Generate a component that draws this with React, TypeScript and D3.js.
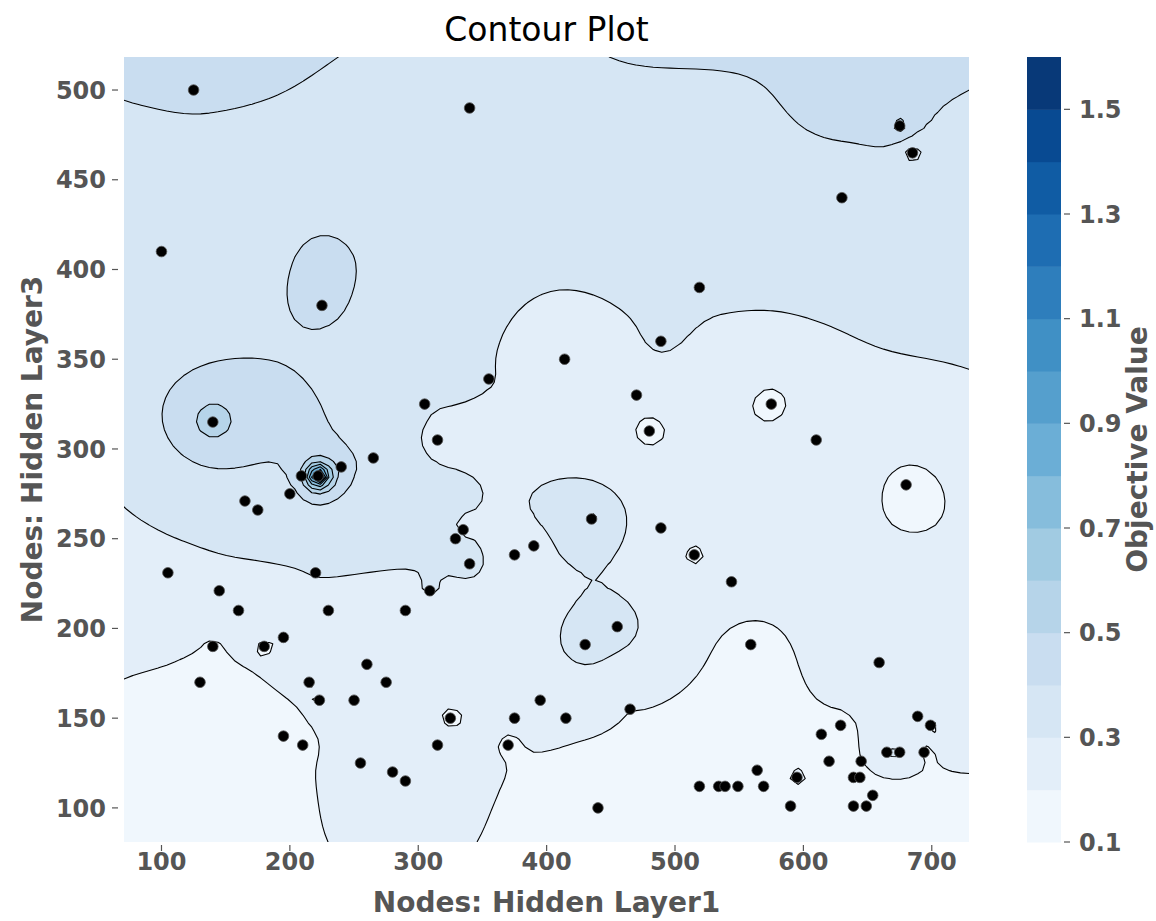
import React, { useMemo } from "react";
import * as d3 from "d3";

// Sampled configurations: nodes in hidden layer 1, nodes in hidden layer 3, objective value
const hiddenLayer1 = [
  125, 340, 675, 685, 630, 100, 225, 519, 489, 414,
  355, 470, 305, 575, 480, 315, 610, 140, 265, 240,
  209, 222, 200, 680, 165, 175, 435, 489, 335, 329,
  390, 375, 515, 340, 105, 220, 544, 145, 309, 160,
  230, 290, 455, 195, 140, 180, 430, 559, 659, 260,
  275, 215, 130, 250, 223, 395, 465, 325, 375, 415,
  689, 629, 699, 614, 195, 210, 315, 370, 665, 675,
  694, 620, 645, 255, 564, 280, 290, 595, 639, 644,
  519, 534, 539, 549, 569, 654, 440, 590, 639, 649,
];
const hiddenLayer3 = [
  500, 490, 480, 465, 440, 410, 380, 390, 360, 350,
  339, 330, 325, 325, 310, 305, 305, 315, 295, 290,
  285, 285, 275, 280, 271, 266, 261, 256, 255, 250,
  246, 241, 241, 236, 231, 231, 226, 221, 221, 210,
  210, 210, 201, 195, 190, 190, 191, 191, 181, 180,
  170, 170, 170, 160, 160, 160, 155, 150, 150, 150,
  151, 146, 146, 141, 140, 135, 135, 135, 131, 131,
  131, 126, 126, 125, 121, 120, 115, 117, 117, 117,
  112, 112, 112, 112, 112, 107, 100, 101, 101, 101,
];
const objectiveValue = [
  0.41, 0.34, 0.58, 0.22, 0.39, 0.35, 0.42, 0.305, 0.32, 0.24,
  0.305, 0.24, 0.305, 0.15, 0.14, 0.25, 0.28, 0.6, 0.38, 0.49,
  0.49, 1.58, 0.36, 0.17, 0.35, 0.34, 0.43, 0.25, 0.28, 0.34,
  0.24, 0.24, 0.17, 0.33, 0.27, 0.305, 0.27, 0.305, 0.31, 0.27,
  0.305, 0.26, 0.4, 0.185, 0.185, 0.18, 0.43, 0.16, 0.25, 0.27,
  0.27, 0.19, 0.16, 0.27, 0.19, 0.26, 0.2, 0.15, 0.21, 0.21,
  0.27, 0.17, 0.18, 0.17, 0.16, 0.15, 0.305, 0.18, 0.36, 0.36,
  0.19, 0.16, 0.2, 0.25, 0.16, 0.27, 0.27, 0.225, 0.18, 0.19,
  0.15, 0.15, 0.15, 0.15, 0.16, 0.19, 0.14, 0.16, 0.17, 0.17,
];

const contourLevels = [0.1, 0.2, 0.3, 0.4, 0.5, 0.6, 0.7, 0.8, 0.9, 1.0, 1.1, 1.2, 1.3, 1.4, 1.5, 1.6];
const xTickValues = [100, 200, 300, 400, 500, 600, 700];
const yTickValues = [100, 150, 200, 250, 300, 350, 400, 450, 500];
const colorbarTicks = [0.1, 0.3, 0.5, 0.7, 0.9, 1.1, 1.3, 1.5];

const WIDTH = 1156;
const HEIGHT = 921;
const M = { left: 124, right: 969, top: 57, bottom: 842 };
const X_DOMAIN: [number, number] = [70.8, 729];
const Y_DOMAIN: [number, number] = [81, 518.4];
const GRID = 100;
const SMOOTH_PX = 55; // broad kernel smoother width (px)
const PRIOR_W = 0.35; // pull of the vertical trend where samples are sparse
const ROBUST = 0.08; // residual scale for down-weighting extremes
const TREND_CAP = 0.38; // readings above this count as local highs for the trend
const CB = { x: 1027, w: 34 };

const TEXT = "#555555";
const FONT = "'DejaVu Sans', 'Liberation Sans', sans-serif";

// matplotlib "Blues" colormap
const BLUES = ["#f7fbff", "#deebf7", "#c6dbef", "#9ecae1", "#6baed6", "#4292c6", "#2171b5", "#08519c", "#08306b"];
const bluesScale = d3
  .scaleLinear<string>()
  .domain(BLUES.map((_, i) => i / (BLUES.length - 1)))
  .range(BLUES)
  .interpolate(d3.interpolateRgb)
  .clamp(true);
const LO = contourLevels[0];
const HI = contourLevels[contourLevels.length - 1];
const bandColor = (t: number) => bluesScale((t + 0.05 - LO) / (HI - LO));

function solve(A: number[][], b: number[]): number[] {
  const n = b.length;
  const m = A.map((row, i) => [...row, b[i]]);
  for (let c = 0; c < n; c++) {
    let p = c;
    for (let r = c + 1; r < n; r++) if (Math.abs(m[r][c]) > Math.abs(m[p][c])) p = r;
    [m[c], m[p]] = [m[p], m[c]];
    const piv = m[c][c];
    for (let r = c + 1; r < n; r++) {
      const f = m[r][c] / piv;
      if (f === 0) continue;
      for (let k = c; k <= n; k++) m[r][k] -= f * m[c][k];
    }
  }
  const x = new Array(n).fill(0);
  for (let r = n - 1; r >= 0; r--) {
    let s = m[r][n];
    for (let k = r + 1; k < n; k++) s -= m[r][k] * x[k];
    x[r] = s / m[r][r];
  }
  return x;
}

function buildContours() {
  const pw = M.right - M.left;
  const ph = M.bottom - M.top;
  const xs = d3.scaleLinear().domain(X_DOMAIN).range([0, pw]);
  const ys = d3.scaleLinear().domain(Y_DOMAIN).range([ph, 0]);
  const nodes = hiddenLayer1.map((x, i) => ({ x: xs(x), y: ys(hiddenLayer3[i]), v: objectiveValue[i] }));
  const n = nodes.length;
  const vc = nodes.map((p) => Math.max(0.12, Math.min(0.6, p.v)));
  const s2 = 2 * SMOOTH_PX * SMOOTH_PX;
  let rw = nodes.map(() => 1);
  let line = [0, 0];

  // weighted least-squares trend along the vertical axis
  const fitTrend = () => {
    const S = [
      [0, 0],
      [0, 0],
    ];
    const t = [0, 0];
    nodes.forEach((p, i) => {
      const f = [1, p.y / ph];
      const v = Math.min(TREND_CAP, vc[i]);
      for (let a = 0; a < 2; a++) {
        t[a] += rw[i] * f[a] * v;
        for (let b = 0; b < 2; b++) S[a][b] += rw[i] * f[a] * f[b];
      }
    });
    line = solve(S, t);
  };
  const trend = (qy: number) => line[0] + (line[1] * qy) / ph;

  const smooth = (qx: number, qy: number) => {
    let sw = PRIOR_W;
    let s = 0;
    for (let i = 0; i < n; i++) {
      const p = nodes[i];
      const d2 = (qx - p.x) ** 2 + (qy - p.y) ** 2;
      const w = Math.exp(-d2 / s2) * rw[i];
      sw += w;
      s += w * (vc[i] - trend(p.y));
    }
    return trend(qy) + s / sw;
  };

  for (let it = 0; it < 2; it++) {
    fitTrend();
    const res = nodes.map((p, i) => vc[i] - smooth(p.x, p.y));
    rw = res.map((r) => 1 / (1 + (r / ROBUST) ** 2));
  }
  fitTrend();

  // decay length of each sample's exact-fit correction follows its spacing
  const decay = nodes.map((a, i) => {
    let nn = Infinity;
    nodes.forEach((b, j) => {
      if (i !== j) nn = Math.min(nn, Math.hypot(a.x - b.x, a.y - b.y));
    });
    return Math.max(8, Math.min(26, 0.4 * nn));
  });

  const A = nodes.map((a) => nodes.map((b, j) => Math.exp(-Math.hypot(a.x - b.x, a.y - b.y) / decay[j])));
  A.forEach((row, i) => (row[i] += 1e-9));
  const rhs = nodes.map((p) => p.v - smooth(p.x, p.y));
  const wts = solve(A, rhs);

  const values: number[] = new Array(GRID * GRID);
  for (let j = 0; j < GRID; j++) {
    const qy = (j * ph) / (GRID - 1);
    for (let i = 0; i < GRID; i++) {
      const qx = (i * pw) / (GRID - 1);
      let v = smooth(qx, qy);
      for (let k = 0; k < n; k++) {
        v += wts[k] * Math.exp(-Math.hypot(qx - nodes[k].x, qy - nodes[k].y) / decay[k]);
      }
      values[j * GRID + i] = v;
    }
  }

  const contours = d3.contours().size([GRID, GRID]).thresholds(contourLevels)(values);
  const path = d3.geoPath(
    d3.geoTransform({
      point(x: number, y: number) {
        (this as any).stream.point(M.left + ((x - 0.5) * pw) / (GRID - 1), M.top + ((y - 0.5) * ph) / (GRID - 1));
      },
    })
  );
  return contours.map((c) => ({ value: c.value, d: path(c) || "" }));
}

export default function App() {
  const bands = useMemo(buildContours, []);
  const x = d3.scaleLinear().domain(X_DOMAIN).range([M.left, M.right]);
  const y = d3.scaleLinear().domain(Y_DOMAIN).range([M.bottom, M.top]);
  const cb = d3.scaleLinear().domain([LO, HI]).range([M.bottom, M.top]);
  const cx = (M.left + M.right) / 2;
  const cy = (M.top + M.bottom) / 2;

  return (
    <svg
      width={WIDTH}
      height={HEIGHT}
      style={{ position: "absolute", left: 0, top: 0, background: "#fff" }}
      fontFamily={FONT}
    >
      <defs>
        <clipPath id="plot-area">
          <rect x={M.left} y={M.top} width={M.right - M.left} height={M.bottom - M.top} />
        </clipPath>
      </defs>

      <text x={cx} y={41} textAnchor="middle" fontSize={33} fill="#000">
        Contour Plot
      </text>

      <g clipPath="url(#plot-area)">
        <rect x={M.left} y={M.top} width={M.right - M.left} height={M.bottom - M.top} fill={bandColor(LO)} />
        {bands.map((b) => (
          <path key={"f" + b.value} d={b.d} fill={bandColor(b.value)} stroke="none" />
        ))}
        {bands.map((b) => (
          <path key={"l" + b.value} d={b.d} fill="none" stroke="#000" strokeWidth={1.1} strokeLinejoin="round" />
        ))}
        {hiddenLayer1.map((h1, i) => (
          <circle key={i} cx={x(h1)} cy={y(hiddenLayer3[i])} r={5.3} fill="#000" stroke="#555" strokeWidth={0.8} />
        ))}
      </g>

      {/* x axis */}
      {xTickValues.map((t) => (
        <g key={"x" + t}>
          <line x1={x(t)} x2={x(t)} y1={845} y2={851} stroke={TEXT} strokeWidth={1.2} />
          <text x={x(t)} y={870} textAnchor="middle" fontSize={24} fontWeight="bold" fill={TEXT}>
            {t}
          </text>
        </g>
      ))}
      <text x={cx} y={912} textAnchor="middle" fontSize={28} fontWeight="bold" fill={TEXT}>
        Nodes: Hidden Layer1
      </text>

      {/* y axis */}
      {yTickValues.map((t) => (
        <g key={"y" + t}>
          <line x1={112} x2={118} y1={y(t)} y2={y(t)} stroke={TEXT} strokeWidth={1.2} />
          <text x={106} y={y(t) + 8.7} textAnchor="end" fontSize={24} fontWeight="bold" fill={TEXT}>
            {t}
          </text>
        </g>
      ))}
      <text
        transform={`translate(42,${cy}) rotate(-90)`}
        textAnchor="middle"
        fontSize={28}
        fontWeight="bold"
        fill={TEXT}
      >
        Nodes: Hidden Layer3
      </text>

      {/* colorbar */}
      {contourLevels.slice(0, -1).map((t) => (
        <rect key={"cb" + t} x={CB.x} y={cb(t + 0.1)} width={CB.w} height={cb(t) - cb(t + 0.1) + 0.5} fill={bandColor(t)} />
      ))}
      {colorbarTicks.map((t) => (
        <g key={"c" + t}>
          <line x1={CB.x + CB.w + 3} x2={CB.x + CB.w + 9} y1={cb(t)} y2={cb(t)} stroke={TEXT} strokeWidth={1.2} />
          <text x={CB.x + CB.w + 18} y={cb(t) + 8.7} fontSize={24} fontWeight="bold" fill={TEXT}>
            {t.toFixed(1)}
          </text>
        </g>
      ))}
      <text
        transform={`translate(1147,${cy}) rotate(-90)`}
        textAnchor="middle"
        fontSize={28}
        fontWeight="bold"
        fill={TEXT}
      >
        Objective Value
      </text>
    </svg>
  );
}
